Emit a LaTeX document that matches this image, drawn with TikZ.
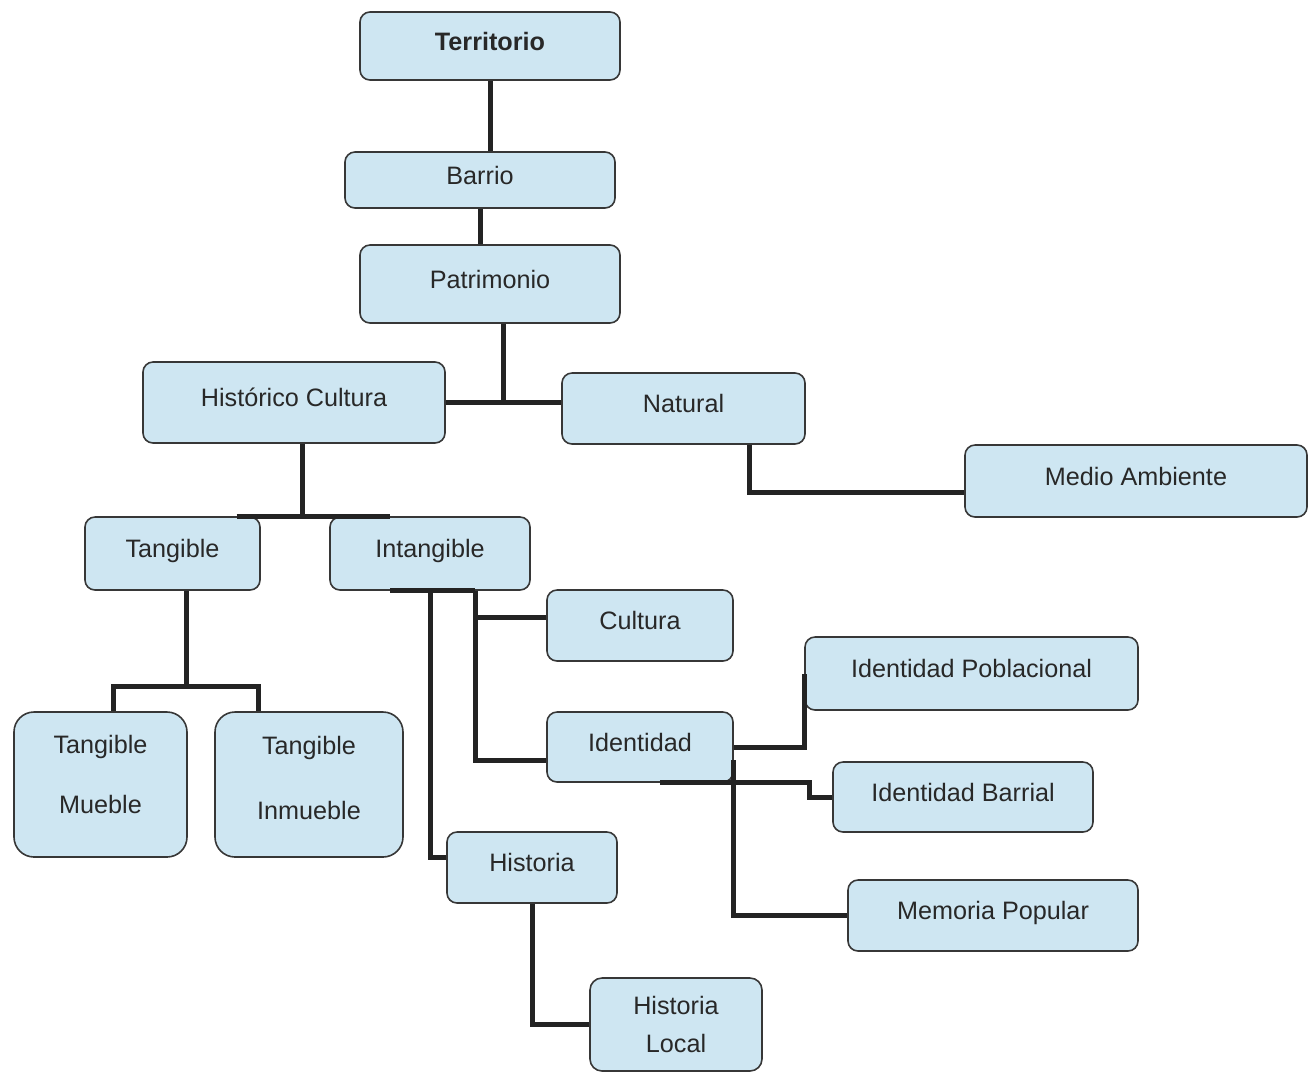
\documentclass[tikz,border=0pt]{standalone}
\usepackage{fontspec}
\setmainfont{Liberation Sans}
\usepackage{tikz}
\usetikzlibrary{positioning}
\definecolor{boxblue}{RGB}{206, 230, 242}
\definecolor{boxline}{RGB}{55, 55, 55}
\definecolor{linkdark}{RGB}{35, 35, 35}
\definecolor{textdark}{RGB}{40, 40, 40}

\begin{document}
\begin{tikzpicture}
    [x=0.5pt, y=-0.5pt,
    font=\fontsize{12.6}{15}\selectfont,
    concept/.style={rectangle, rounded corners=5pt, draw=boxline, line width=.8pt, fill=boxblue, text=textdark, text centered, text height=9pt, text depth=5pt, inner sep=0pt},
    concepttwo/.style={rectangle, rounded corners=10pt, draw=boxline, line width=.8pt, fill=boxblue, text=textdark, align=center, inner sep=0pt},
    link/.style={draw=linkdark, line width=2.5pt}]
    \useasboundingbox (0,0) rectangle (1310,1073);

    \node (territorio) [concept, minimum width=130pt, minimum height=34pt] at (490,46) {\textbf{Territorio}};
    \node (barrio) [concept, minimum width=135pt, minimum height=28pt] at (480,180) {Barrio};
    \node (patrimonio) [concept, minimum width=130pt, minimum height=39pt] at (490,284) {Patrimonio};
    \node (historico) [concept, minimum width=151pt, minimum height=40.5pt] at (294,402.5) {Histórico Cultura};
    \node (natural) [concept, minimum width=121.5pt, minimum height=35.5pt] at (683.5,408.5) {Natural};
    \node (medio) [concept, minimum width=171pt, minimum height=36pt] at (1136,481) {Medio Ambiente};
    \node (tangible) [concept, minimum width=87.5pt, minimum height=36.5pt] at (172.5,553.5) {Tangible};
    \node (intangible) [concept, minimum width=100pt, minimum height=36.5pt] at (430,553.5) {Intangible};
    \node (cultura) [concept, minimum width=93pt, minimum height=35.5pt] at (640,625.5) {Cultura};
    \node (id-pob) [concept, minimum width=166.5pt, minimum height=36.5pt] at (971.5,673.5) {Identidad Poblacional};
    \node (identidad) [concept, minimum width=93pt, minimum height=35pt] at (640,747) {Identidad};
    \node (id-bar) [concept, minimum width=130pt, minimum height=35pt] at (963,797) {Identidad Barrial};
    \node (memoria) [concept, minimum width=145pt, minimum height=35.5pt] at (993,915.5) {Memoria Popular};
    \node (historia) [concept, minimum width=85pt, minimum height=35.5pt] at (532,867.5) {Historia};
    \node (hist-local) [concepttwo, rounded corners=6pt, minimum width=86pt, minimum height=46.5pt] at (676,1024.5) {Historia\\[4pt]Local};
    \node (mueble) [concepttwo, minimum width=86.5pt, minimum height=72.5pt] at (100.5,784.5) {Tangible\\[15pt]Mueble\rule[-10pt]{0pt}{0pt}};
    \node (inmueble) [concepttwo, minimum width=94pt, minimum height=72.5pt] at (309,784.5) {Tangible\\[17.5pt]Inmueble\rule[-7pt]{0pt}{0pt}};

    \draw[link] (territorio.south) -- (territorio.south |- barrio.north);
    \draw[link] (barrio.south) -- (barrio.south |- patrimonio.north);
    \draw[link] ([xshift=6.5pt]patrimonio.south) -- ([xshift=6.5pt]patrimonio.south |- historico.east);
    \draw[link] (historico.east) -- (historico.east -| natural.west);
    \draw[link] ([xshift=33pt]natural.south) |- ([yshift=-5.5pt]medio.west);

    \draw[link] ([xshift=4pt]historico.south) -- ([xshift=4pt]historico.south |- tangible.north);
    \draw[link] ([xshift=32pt]tangible.north) -- ([xshift=-20pt]intangible.north);
    \draw[link] ([xshift=6.75pt]tangible.south) -- ++(0,-48.5pt);
    \draw[link] ([xshift=6.25pt]mueble.north) -- ++(0,12.5pt) -| ([xshift=-25.5pt]inmueble.north);

    \draw[link] ([xshift=-20pt]intangible.south) -- ([xshift=22.5pt]intangible.south);
    \draw[link] ([xshift=22.5pt]intangible.south) |- ([yshift=4pt]cultura.west);
    \draw[link] ([xshift=22.5pt]intangible.south) |- ([yshift=-6.5pt]identidad.west);
    \draw[link] (intangible.south) |- ([yshift=5pt]historia.west);
    \draw[link] (historia.south) |- (hist-local.west);

    \draw[link] (identidad.east) -| (id-pob.west);
    \draw[link] ([xshift=10pt]identidad.south) -| ([xshift=-11.5pt]id-bar.west) -- (id-bar.west);
    \draw[link] ([yshift=-6.5pt]identidad.east) |- (memoria.west);

\end{tikzpicture}
\end{document}
